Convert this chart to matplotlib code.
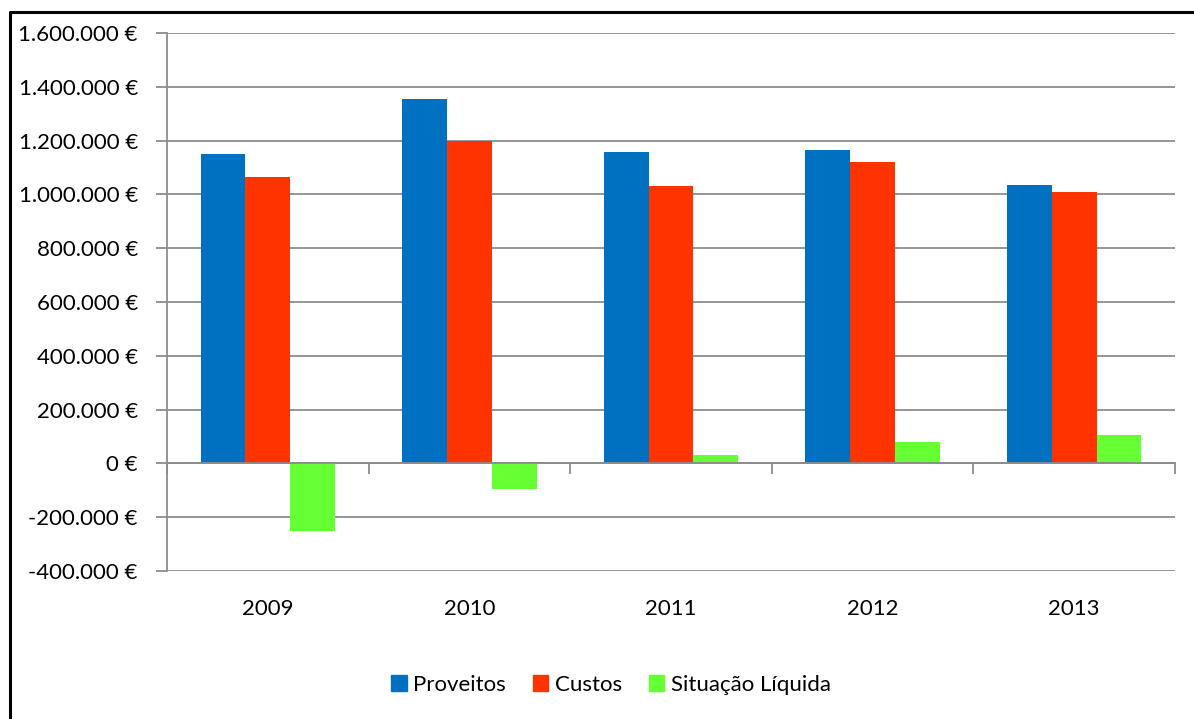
import numpy as np
import matplotlib.pyplot as plt
from matplotlib.lines import Line2D
from matplotlib.patches import Patch
from matplotlib.ticker import FuncFormatter

plt.rcParams['font.family'] = ['Lato', 'DejaVu Sans']

anos = ['2009', '2010', '2011', '2012', '2013']
proveitos = [1150000, 1355000, 1157000, 1165000, 1035000]
custos = [1065000, 1198000, 1030000, 1122000, 1008000]
situacao = [-253000, -97000, 30000, 78000, 104000]

series = ['Proveitos', 'Custos', 'Situação Líquida']
cores = ['#0070C0', '#FF3300', '#66FF33']
grey = '#8C8C8C'

fig = plt.figure(figsize=(11.94, 7.19), dpi=100)
ax = fig.add_axes([167/1194, 1-571/719, (1175-167)/1194, (571-33)/719])

x = np.arange(len(anos))
w = 1/4.5
for i, (vals, c) in enumerate(zip([proveitos, custos, situacao], cores)):
    ax.bar(x + (i-1)*w, vals, w, color=c, zorder=3)

ax.set_xlim(-0.5, len(anos)-0.5)
ax.set_ylim(-400000, 1600000)
ax.set_yticks(np.arange(-400000, 1600001, 200000))
ax.yaxis.set_major_formatter(FuncFormatter(lambda v, p: f"{v:,.0f} €".replace(",", ".")))
ax.yaxis.grid(True, color=grey, lw=1.3, zorder=0)
ax.tick_params(axis='y', length=8, width=1.3, color=grey, pad=13, labelsize=16)

# category axis sits at zero, labels stay at the bottom
ax.spines['bottom'].set_position(('data', 0))
ax.spines['bottom'].set_color(grey)
ax.spines['bottom'].set_linewidth(1.3)
ax.spines['bottom'].set_zorder(4)
ax.set_xticks(np.arange(-0.5, len(anos)), labels=[])
ax.tick_params(axis='x', length=8, width=1.3, color=grey)
for xi, a in zip(x, anos):
    ax.text(xi, -0.07, a, transform=ax.get_xaxis_transform(), ha='center', va='center', fontsize=16)

for s in ['top', 'right']:
    ax.spines[s].set_visible(False)
ax.spines['left'].set_color(grey)
ax.spines['left'].set_linewidth(1.3)

handles = [Patch(color=c) for c in cores]
fig.legend(handles, series, loc='center', bbox_to_anchor=(611/1194, 1-685/719), ncol=3,
           frameon=False, fontsize=16, handlelength=0.7, handleheight=0.7,
           handletextpad=0.3, columnspacing=1.2)

# chart area border
fig.add_artist(Line2D([10/1194, 10/1194, 1], [0, 1-12/719, 1-12/719], color='black', lw=2.2,
                      transform=fig.transFigure))

fig.savefig('out.png', dpi=100)
